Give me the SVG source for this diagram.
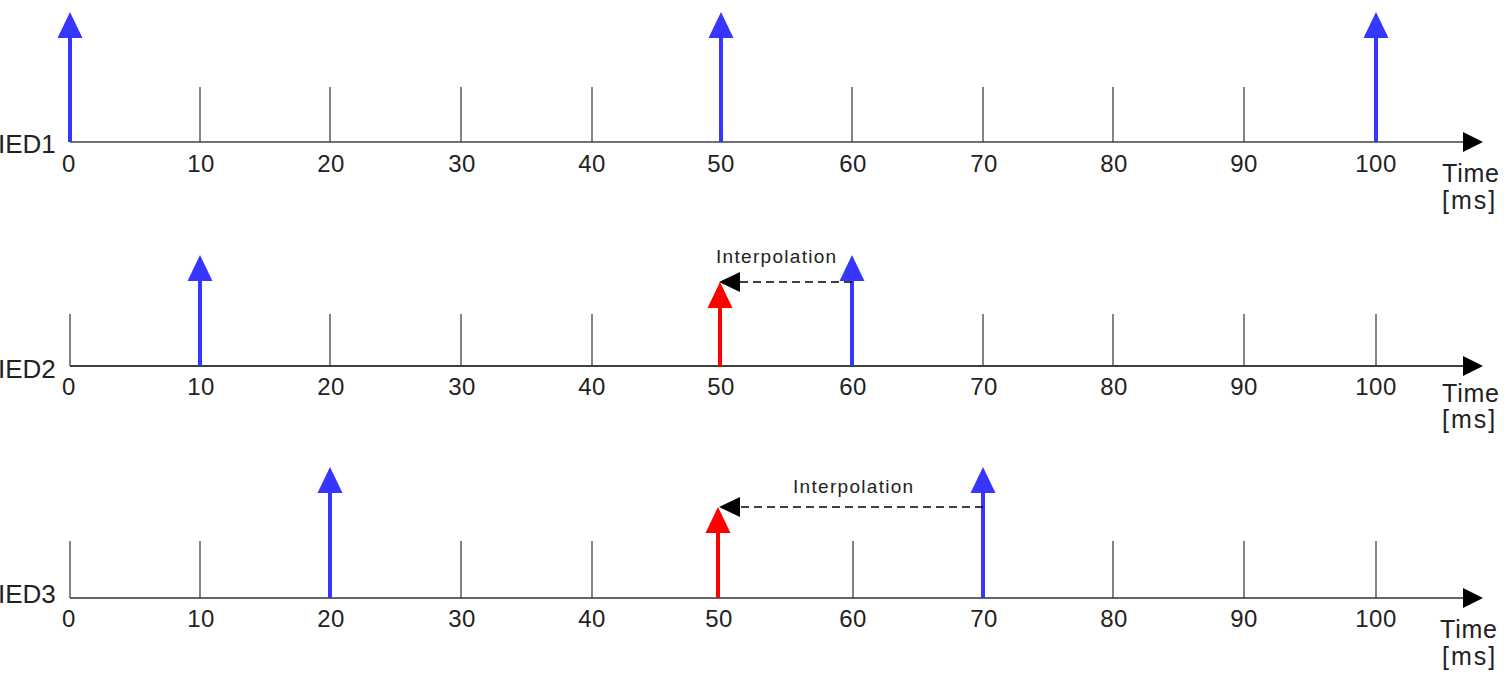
<svg xmlns="http://www.w3.org/2000/svg" xmlns:xlink="http://www.w3.org/1999/xlink" width="1509" height="680" viewBox="0 0 1509 680">
<style>
text{font-family:"Liberation Sans",Arial,sans-serif;fill:#222}
.num{font-size:24px;text-anchor:middle;letter-spacing:0.5px}
.ied{font-size:26px}
.unit{font-size:25px;letter-spacing:0.8px}
.ms{font-size:25px;letter-spacing:2px}
.interp{font-size:19px;letter-spacing:1.3px}
.axis{stroke:#444;stroke-width:1.5;fill:none}
.tick{stroke:#333;stroke-width:1.2}
.blue{stroke:#3636ff;stroke-width:4}
.red{stroke:#ff0000;stroke-width:4}
.dash{stroke:#000;stroke-width:1.5;stroke-dasharray:8,5;fill:none}
</style>
<defs>
<path id="axhead" d="M0,0 L-20,-10 L-20,10 Z" fill="#000"/>
<path id="hb" d="M0,0 L-12.5,26 L12.5,26 Z" fill="#3636ff"/>
<path id="hr" d="M0,0 L-12.5,26 L12.5,26 Z" fill="#ff0000"/>
<path id="hl" d="M0,0 L21,-10 L21,10 Z" fill="#000"/>
</defs>

<g id="ied1">
<text class="ied" x="-2" y="153">IED1</text>
<line class="axis" x1="70" y1="142" x2="1466" y2="142"/>
<use href="#axhead" x="1483" y="142"/>
<g class="tick">
<line x1="200" y1="87" x2="200" y2="142"/><line x1="330" y1="87" x2="330" y2="142"/><line x1="461" y1="87" x2="461" y2="142"/><line x1="592" y1="87" x2="592" y2="142"/><line x1="852" y1="87" x2="852" y2="142"/><line x1="983" y1="87" x2="983" y2="142"/><line x1="1113" y1="87" x2="1113" y2="142"/><line x1="1244" y1="87" x2="1244" y2="142"/>
</g>
<g class="num">
<text x="69" y="172">0</text><text x="201" y="172">10</text><text x="331" y="172">20</text><text x="462" y="172">30</text><text x="592" y="172">40</text><text x="721" y="172">50</text><text x="853" y="172">60</text><text x="984" y="172">70</text><text x="1114" y="172">80</text><text x="1244" y="172">90</text><text x="1376" y="172">100</text>
</g>
<text class="unit" x="1442" y="182">Time</text>
<text class="ms" x="1442" y="209">[ms]</text>
<line class="blue" x1="70" y1="142" x2="70" y2="36"/><use href="#hb" x="70" y="12"/>
<line class="blue" x1="721" y1="142" x2="721" y2="36"/><use href="#hb" x="721" y="12"/>
<line class="blue" x1="1376" y1="142" x2="1376" y2="36"/><use href="#hb" x="1376" y="12"/>
</g>

<g id="ied2">
<text class="ied" x="-2" y="378">IED2</text>
<line class="axis" x1="70" y1="366" x2="1466" y2="366" style="stroke:#000"/>
<use href="#axhead" x="1483" y="366"/>
<g class="tick">
<line x1="70" y1="314" x2="70" y2="366"/><line x1="330" y1="314" x2="330" y2="366"/><line x1="461" y1="314" x2="461" y2="366"/><line x1="592" y1="314" x2="592" y2="366"/><line x1="983" y1="314" x2="983" y2="366"/><line x1="1113" y1="314" x2="1113" y2="366"/><line x1="1244" y1="314" x2="1244" y2="366"/><line x1="1376" y1="314" x2="1376" y2="366"/>
</g>
<g class="num">
<text x="69" y="395">0</text><text x="201" y="395">10</text><text x="331" y="395">20</text><text x="462" y="395">30</text><text x="592" y="395">40</text><text x="721" y="395">50</text><text x="853" y="395">60</text><text x="984" y="395">70</text><text x="1114" y="395">80</text><text x="1244" y="395">90</text><text x="1376" y="395">100</text>
</g>
<text class="unit" x="1442" y="402">Time</text>
<text class="ms" x="1442" y="428">[ms]</text>
<line class="blue" x1="200" y1="366" x2="200" y2="279"/><use href="#hb" x="200" y="255"/>
<line class="red" x1="720" y1="366" x2="720" y2="306"/><use href="#hr" x="720" y="282"/>
<line class="blue" x1="852" y1="366" x2="852" y2="279"/><use href="#hb" x="852" y="255"/>
<text class="interp" x="716" y="263">Interpolation</text>
</g>

<g id="ied3">
<text class="ied" x="-2" y="603">IED3</text>
<line class="axis" x1="70" y1="598" x2="1466" y2="598" style="stroke:#333"/>
<use href="#axhead" x="1483" y="598"/>
<g class="tick">
<line x1="70" y1="541" x2="70" y2="598"/><line x1="200" y1="541" x2="200" y2="598"/><line x1="461" y1="541" x2="461" y2="598"/><line x1="592" y1="541" x2="592" y2="598"/><line x1="853" y1="541" x2="853" y2="598"/><line x1="1113" y1="541" x2="1113" y2="598"/><line x1="1244" y1="541" x2="1244" y2="598"/><line x1="1376" y1="541" x2="1376" y2="598"/>
</g>
<g class="num">
<text x="69" y="627">0</text><text x="201" y="627">10</text><text x="331" y="627">20</text><text x="462" y="627">30</text><text x="592" y="627">40</text><text x="719" y="627">50</text><text x="853" y="627">60</text><text x="984" y="627">70</text><text x="1114" y="627">80</text><text x="1244" y="627">90</text><text x="1376" y="627">100</text>
</g>
<text class="unit" x="1440" y="638">Time</text>
<text class="ms" x="1442" y="665">[ms]</text>
<line class="blue" x1="330" y1="598" x2="330" y2="491"/><use href="#hb" x="330" y="467"/>
<line class="red" x1="718" y1="598" x2="718" y2="531"/><use href="#hr" x="718" y="507"/>
<line class="blue" x1="983" y1="598" x2="983" y2="491"/><use href="#hb" x="983" y="467"/>
<text class="interp" x="793" y="493">Interpolation</text>
</g>

<g id="connectors">
<line class="dash" x1="852" y1="282" x2="738" y2="282"/><use href="#hl" x="719" y="282"/>
<line class="dash" x1="983" y1="507" x2="738" y2="507"/><use href="#hl" x="719" y="507"/>
</g>
</svg>
